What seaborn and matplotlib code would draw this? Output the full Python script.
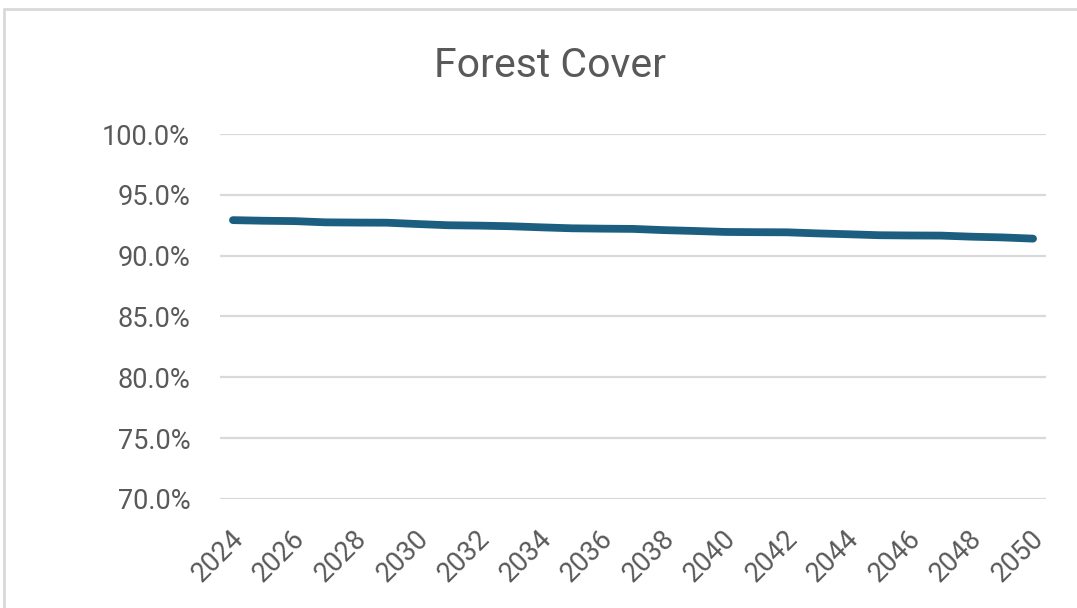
import matplotlib
matplotlib.use("Agg")
import matplotlib.pyplot as plt
from matplotlib.lines import Line2D
from matplotlib.ticker import PercentFormatter, MultipleLocator
from matplotlib.transforms import ScaledTranslation
import pandas as pd
import seaborn as sns

# Projected forest cover (% of land area), one value per year
years = list(range(2024, 2051))
forest_cover = [
    92.92, 92.87, 92.84, 92.74, 92.72, 92.71, 92.60, 92.50, 92.47,
    92.42, 92.33, 92.25, 92.22, 92.20, 92.10, 92.03, 91.95, 91.93,
    91.92, 91.83, 91.76, 91.68, 91.66, 91.65, 91.56, 91.50, 91.40,
]
x_ticks = list(range(2024, 2051, 2))
title = "Forest Cover"

df = pd.DataFrame({"Year": years, "Forest Cover": forest_cover})

sns.set_theme(style="white")
plt.rcParams["font.family"] = ["Roboto", "DejaVu Sans"]

text_color = "#595959"
grid_color = "#d9d9d9"
line_color = "#1b5e80"

fig = plt.figure(figsize=(10.77, 6.08), dpi=100)
ax = fig.add_axes([0.2043, 0.1793, 0.7669, 0.6003])

sns.lineplot(data=df, x="Year", y="Forest Cover", ax=ax, color=line_color,
             linewidth=5.6, solid_capstyle="round", solid_joinstyle="round")

ax.set_ylim(70, 100)
ax.set_xlim(2023.58, 2050.42)
ax.yaxis.set_major_locator(MultipleLocator(5))
ax.yaxis.set_major_formatter(PercentFormatter(decimals=1))
ax.set_xticks(x_ticks)
ax.set_xticklabels([str(y) for y in x_ticks], rotation=45, ha="right",
                   va="top", rotation_mode="anchor")

ax.grid(axis="y", color=grid_color, linewidth=1.6)
ax.grid(axis="x", visible=False)
ax.set_axisbelow(True)
for s in ax.spines.values():
    s.set_visible(False)
ax.tick_params(axis="both", length=0, labelsize=19.5, labelcolor=text_color)
ax.tick_params(axis="y", pad=21.5)
ax.tick_params(axis="x", pad=19)

# small horizontal nudge for the slanted year labels
shift = ScaledTranslation(-3 / 100, 0, fig.dpi_scale_trans)
for lbl in ax.get_xticklabels():
    lbl.set_transform(lbl.get_transform() + shift)

ax.set_xlabel("")
ax.set_ylabel("")

fig.text(0.5107, 0.893, title, ha="center", va="center", fontsize=29.5,
         color=text_color)

# Chart-area frame (top and left edges)
fig.add_artist(Line2D([4 / 1077, 1.0], [1 - 9 / 608, 1 - 9 / 608],
                      color=grid_color, linewidth=2, transform=fig.transFigure))
fig.add_artist(Line2D([4 / 1077, 4 / 1077], [0.0, 1 - 9 / 608],
                      color=grid_color, linewidth=2, transform=fig.transFigure))

fig.savefig("out.png", dpi=100, facecolor="white")
